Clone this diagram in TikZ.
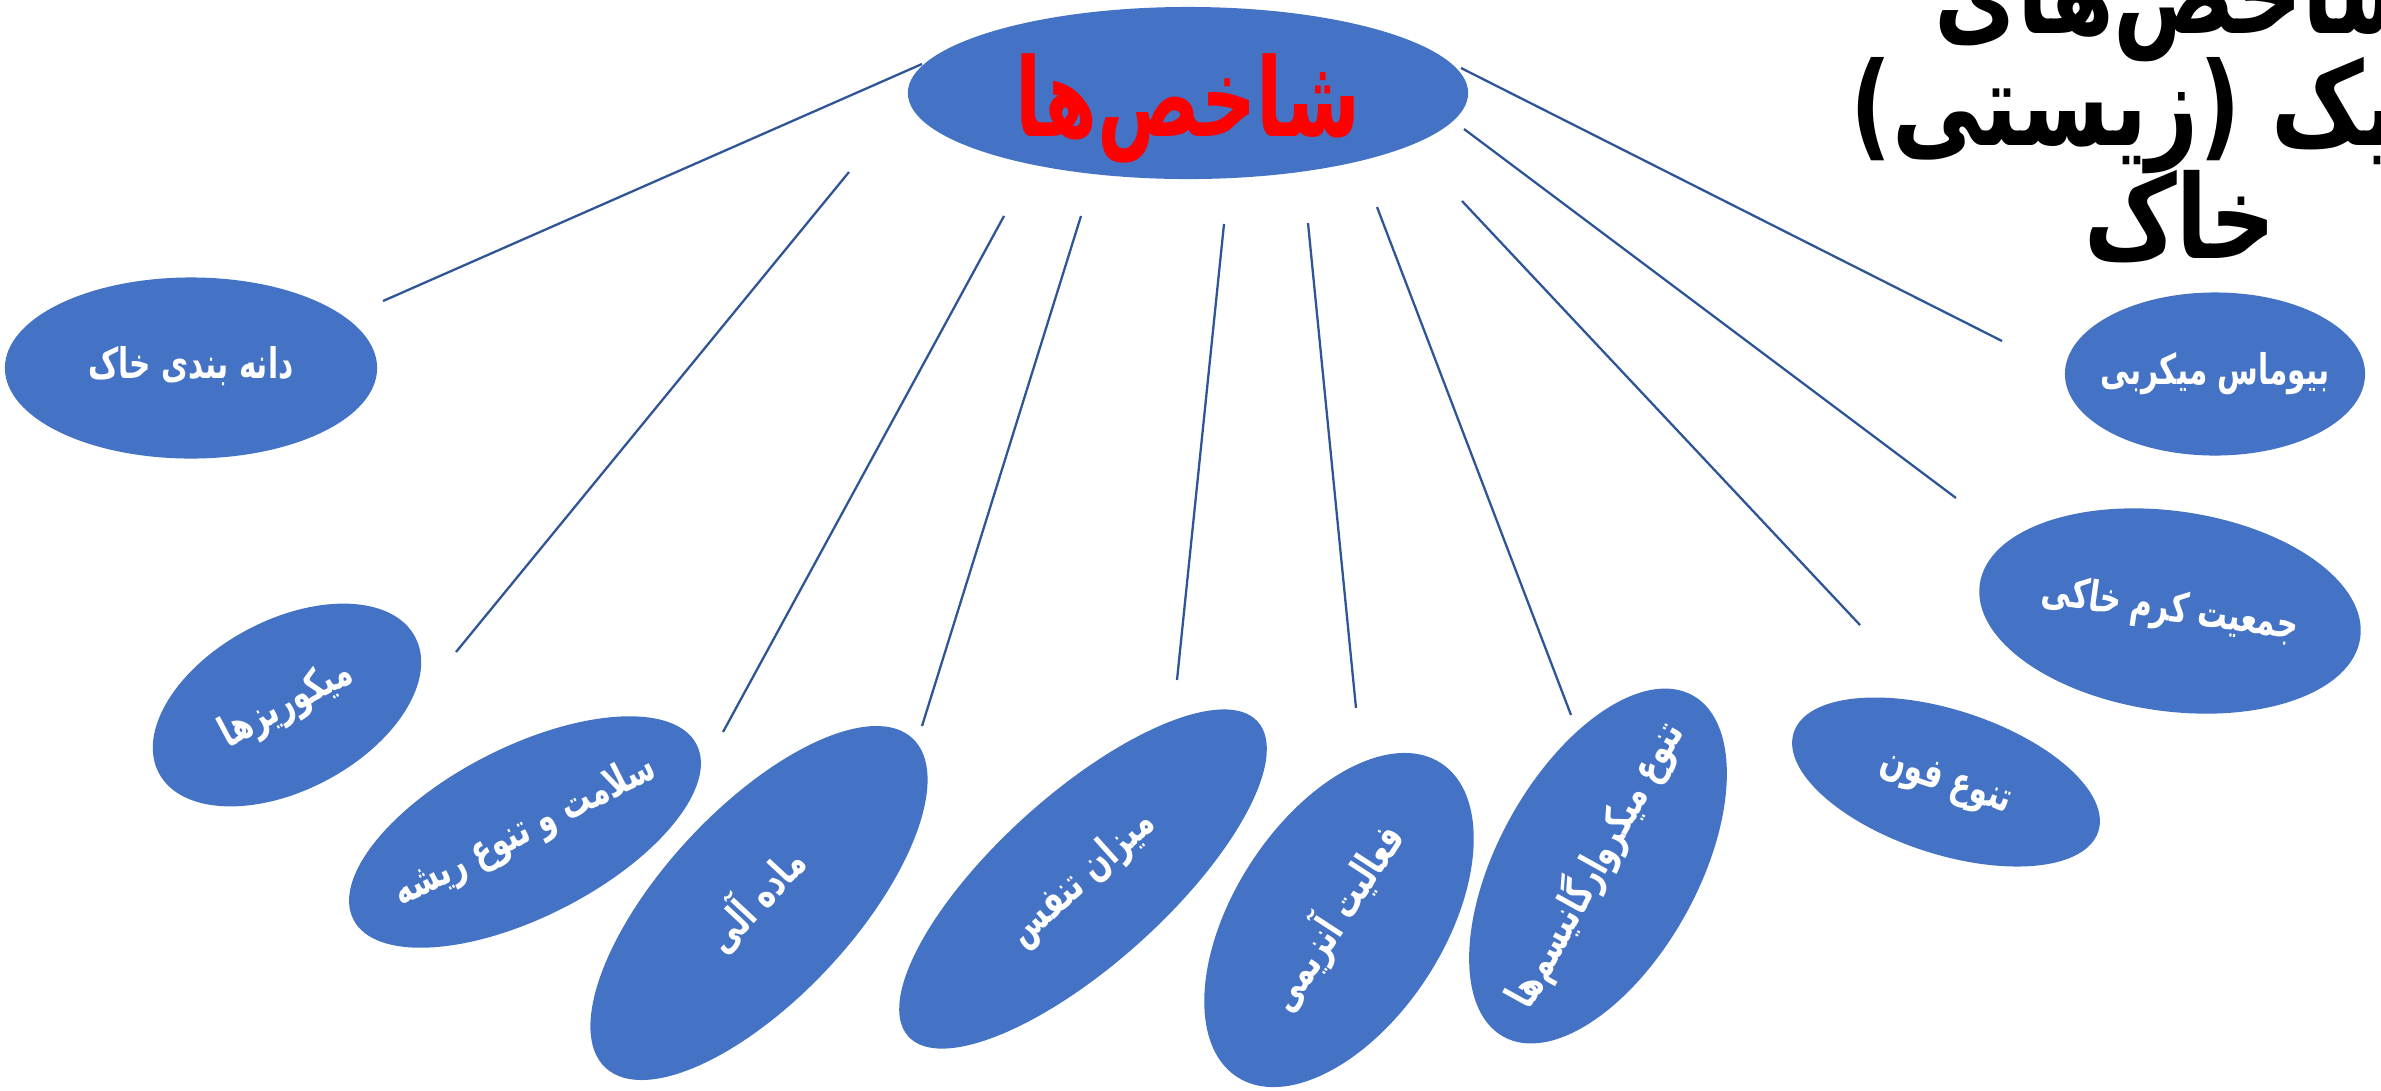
\documentclass[tikz,border=0pt]{standalone}
\usepackage{fontspec}
\usetikzlibrary{shapes.geometric}
\newfontfamily\fa[Script=Arabic, FakeStretch=0.7]{DejaVu Sans}
\newfontfamily\fatitle[Script=Arabic, FakeStretch=0.78]{DejaVu Sans}
\TeXXeTstate=1
\definecolor{blobblue}{HTML}{4472C4}
\definecolor{linkblue}{HTML}{2F5597}
\newcommand{\rl}[1]{\beginR #1\endR}
% text that does not resize the ellipse around it
\newcommand{\inblob}[2][-0.25em]{\makebox[0pt]{\raisebox{#1}[0pt][0pt]{\rl{#2}}}}
\newcommand{\titlefont}{\fatitle\bfseries\fontsize{33}{32}\selectfont\setlength{\lineskiplimit}{-100pt}}

\begin{document}
\begin{tikzpicture}[
    x=0.01cm, y=-0.01cm,
    blob/.style={ellipse, fill=blobblue, inner sep=0pt, text=white,
                 font=\fa\bfseries\fontsize{12}{14}\selectfont},
    link/.style={draw=linkblue, line width=0.65pt}
]
    \path[use as bounding box, fill=white] (0,0) rectangle (2381,1090);
    \clip (0,0) rectangle (2381,1090);

    % title, runs off the page
    \node[font=\titlefont, align=center] (title) at (2180,104)
        {\rl{شاخص‌های}\\ \hspace*{1.6cm}\rl{بیولوژیک (زیستی)}\\ \rl{خاک}};

    % hub
    \node[blob, minimum width=5.6cm, minimum height=1.72cm, text=red,
          font=\fa\bfseries\fontsize{31}{33}\selectfont] (root) at (1188,93) {\inblob[-0.4em]{شاخص‌ها}};

    % indicators
    \node[blob, minimum width=3.72cm, minimum height=1.81cm] (grain) at (191,368) {\inblob{دانه بندی خاک}};
    \node[blob, minimum width=2.9cm, minimum height=1.7cm, rotate=28] (myco) at (287,705) {\inblob{میکوریزها}};
    \node[blob, minimum width=3.85cm, minimum height=1.7cm, rotate=27] (root-health) at (525,832) {\inblob{سلامت و تنوع ریشه}};
    \node[blob, minimum width=4.5cm, minimum height=1.9cm, rotate=47] (organic) at (759,903) {\inblob{ماده آلی}};
    \node[blob, minimum width=4.7cm, minimum height=1.7cm, rotate=42] (resp) at (1083,879) {\inblob{میزان تنفس}};
    \node[blob, minimum width=3.74cm, minimum height=2.1cm, rotate=57] (enzyme) at (1339,920) {\inblob{فعالیت آنزیمی}};
    \node[blob, minimum width=3.9cm, minimum height=2.0cm, rotate=61] (micro) at (1598,866) {\inblob{تنوع میکروارگانیسم‌ها}};
    \node[blob, minimum width=3.2cm, minimum height=1.44cm, rotate=-18] (fauna) at (1946,782) {\inblob{تنوع فون}};
    \node[blob, minimum width=3.84cm, minimum height=2.0cm, rotate=-8] (worm) at (2170,611) {\inblob{جمعیت کرم خاکی}};
    \node[blob, minimum width=3.0cm, minimum height=1.63cm] (biomass) at (2215,374) {\inblob{بیوماس میکربی}};

    % loose ends of the spokes
    \coordinate (from-grain) at (922,64);     \coordinate (to-grain) at (383,301);
    \coordinate (from-myco) at (849,172);     \coordinate (to-myco) at (456,652);
    \coordinate (from-rh) at (1004,216);      \coordinate (to-rh) at (723,732);
    \coordinate (from-org) at (1081,216);     \coordinate (to-org) at (922,726);
    \coordinate (from-resp) at (1224,224);    \coordinate (to-resp) at (1177,680);
    \coordinate (from-enz) at (1308,223);     \coordinate (to-enz) at (1356,708);
    \coordinate (from-micro) at (1377,207);   \coordinate (to-micro) at (1571,715);
    \coordinate (from-fauna) at (1462,201);   \coordinate (to-fauna) at (1860,625);
    \coordinate (from-worm) at (1464,129);    \coordinate (to-worm) at (1956,498);
    \coordinate (from-bio) at (1461,68);      \coordinate (to-bio) at (2002,341);

    \draw[link] (from-grain) -- (to-grain);
    \draw[link] (from-myco) -- (to-myco);
    \draw[link] (from-rh) -- (to-rh);
    \draw[link] (from-org) -- (to-org);
    \draw[link] (from-resp) -- (to-resp);
    \draw[link] (from-enz) -- (to-enz);
    \draw[link] (from-micro) -- (to-micro);
    \draw[link] (from-fauna) -- (to-fauna);
    \draw[link] (from-worm) -- (to-worm);
    \draw[link] (from-bio) -- (to-bio);
\end{tikzpicture}
\end{document}
